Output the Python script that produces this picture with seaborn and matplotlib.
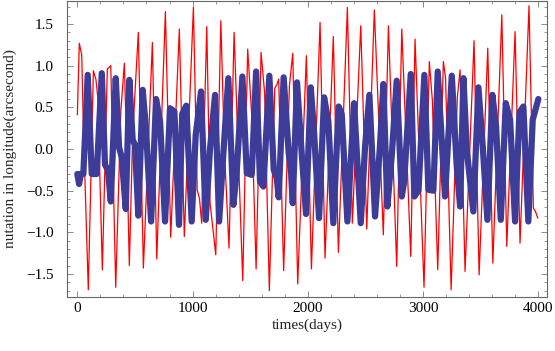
import numpy as np
import pandas as pd
import matplotlib
matplotlib.use("Agg")
import matplotlib.pyplot as plt
import seaborn as sns
from matplotlib.ticker import MultipleLocator

# ===========================
# Data (day, arcsec)
# ===========================
red_days = [0, 17, 38, 52, 95, 139, 162, 177, 217, 260, 290, 333, 377, 408, 434, 451,
            480, 529, 573, 651, 689, 764, 810, 885, 928, 1007, 1040, 1060, 1079, 1123,
            1151, 1201, 1245, 1276, 1316, 1360, 1435, 1478, 1513, 1551, 1594, 1625, 1666,
            1713, 1730, 1747, 1790, 1840, 1869, 1912, 1987, 2031, 2106, 2149, 2221, 2265,
            2343, 2386, 2459, 2511, 2577, 2655, 2699, 2771, 2815, 2893, 2930, 3008, 3054,
            3080, 3127, 3176, 3195, 3243, 3297, 3321, 3364, 3442, 3486, 3561, 3605, 3683,
            3726, 3798, 3841, 3919, 3957, 3975, 3995]
red_vals = [0.41, 1.27, 1.13, 0.27, -1.69, 0.94, 0.83, 0.62, -1.45, 0.96, 1.00, -1.66,
            0.45, 1.03, -0.35, -1.40, 0.17, 1.40, -1.43, 1.28, -1.32, 1.65, -1.06, 1.44,
            -1.05, 1.70, -0.49, -0.60, -0.89, 1.47, -0.64, -1.27, 1.54, -0.01, -1.19, 1.40,
            -1.58, 1.20, 0.40, -1.44, 1.16, 0.67, -1.70, 0.73, 0.77, 0.84, -1.46, 0.76,
            1.15, -1.62, 1.12, -1.44, 1.52, -1.31, 1.35, -1.24, 1.70, -0.89, 1.48, -0.96,
            1.67, -1.03, 1.48, -1.41, 1.44, -1.29, 1.32, -1.66, 1.05, 0.59, -1.45, 1.05,
            0.85, -1.69, 0.62, 0.95, -1.47, 1.30, -1.51, 1.21, -1.37, 1.61, -1.17, 1.41,
            -1.13, 1.72, -0.71, -0.75, -0.83]

blue_days = [0, 15, 30, 52, 90, 125, 168, 212, 240, 265, 290, 333, 362, 385, 420, 451,
             480, 500, 529, 567, 595, 640, 683, 718, 761, 804, 842, 882, 910, 945, 992,
             1027, 1073, 1114, 1151, 1195, 1230, 1267, 1310, 1354, 1383, 1432, 1470, 1513,
             1551, 1585, 1614, 1666, 1704, 1730, 1747, 1790, 1834, 1855, 1869, 1906, 1944,
             1984, 2025, 2054, 2097, 2141, 2178, 2221, 2267, 2294, 2343, 2401, 2459, 2497,
             2534, 2583, 2626, 2655, 2690, 2728, 2771, 2815, 2835, 2893, 2924, 2960, 3011,
             3046, 3089, 3127, 3190, 3249, 3292, 3321, 3350, 3379, 3436, 3480, 3517, 3558,
             3601, 3633, 3674, 3717, 3755, 3798, 3836, 3870, 3913, 3951, 4000]
blue_vals = [-0.30, -0.42, -0.30, -0.30, 0.89, -0.30, -0.30, 0.91, -0.19, -0.25, -0.63,
             0.85, 0.02, -0.10, -0.72, 0.83, 0.11, 0.05, -0.80, 0.71, 0.25, -0.87, 0.60,
             0.33, -0.87, 0.49, 0.45, -0.91, 0.42, 0.52, -0.87, 0.17, 0.69, -0.85, 0.00,
             0.65, -0.87, -0.05, 0.85, -0.67, -0.27, 0.87, -0.29, -0.31, 0.93, -0.39,
             -0.45, 0.88, -0.25, -0.35, -0.58, 0.86, -0.05, -0.30, -0.65, 0.80, 0.00,
             -0.78, 0.74, 0.20, -0.83, 0.62, 0.33, -0.89, 0.51, 0.42, -0.87, 0.55, -0.89,
             0.04, 0.65, -0.81, 0.04, 0.78, -0.69, -0.08, 0.82, -0.57, -0.40, 0.90, -0.57,
             -0.50, 0.89, -0.49, -0.50, 0.93, -0.57, 0.88, -0.21, -0.69, 0.85, -0.01,
             -0.75, 0.74, 0.04, -0.85, 0.65, 0.27, -0.85, 0.55, 0.35, -0.87, 0.44, 0.51,
             -0.87, 0.35, 0.60]

x_ticks = [0, 1000, 2000, 3000, 4000]
y_ticks = [-1.5, -1.0, -0.5, 0.0, 0.5, 1.0, 1.5]

red_df = pd.DataFrame({"day": red_days, "val": red_vals})
blue_df = pd.DataFrame({"day": blue_days, "val": blue_vals})

# ===========================
# Plot
# ===========================
sns.set_theme(style="white")
plt.rcParams["font.family"] = ["Liberation Serif", "DejaVu Serif"]

fig = plt.figure(figsize=(5.55, 3.51), dpi=100)
ax = fig.add_axes([0.1213, 0.1547, 0.8649, 0.8425])

sns.lineplot(data=red_df, x="day", y="val", ax=ax, color="#ff0000",
             linewidth=0.9, estimator=None, sort=False)
sns.lineplot(data=blue_df, x="day", y="val", ax=ax, color="#3d3d99",
             linewidth=4.5, estimator=None, sort=False,
             solid_joinstyle="round", solid_capstyle="round")

ax.set_xlim(-87, 4078)
ax.set_ylim(-1.773, 1.777)
ax.set_xticks(x_ticks)
ax.set_xticklabels([str(t) for t in x_ticks])
ax.set_yticks(y_ticks)
ax.set_yticklabels([f"{t:.1f}".replace("-", "\u2212") for t in y_ticks])
ax.xaxis.set_minor_locator(MultipleLocator(200))
ax.yaxis.set_minor_locator(MultipleLocator(0.1))

for s in ax.spines.values():
    s.set_color("#666666")
    s.set_linewidth(0.8)

ax.tick_params(which="both", direction="in", top=True, right=True,
               bottom=True, left=True, color="#888888")
ax.tick_params(which="major", length=4.5, width=0.7, labelsize=11,
               labelcolor="black")
ax.tick_params(axis="x", which="major", pad=3.5)
ax.tick_params(axis="y", which="major", pad=10)
ax.tick_params(which="minor", length=2.5, width=0.6)

ax.set_xlabel("times(days)", fontsize=11, labelpad=3)
ax.set_ylabel("nutation in longitude(arcsecond)", fontsize=11, labelpad=6)

fig.savefig("out.png", dpi=100)
